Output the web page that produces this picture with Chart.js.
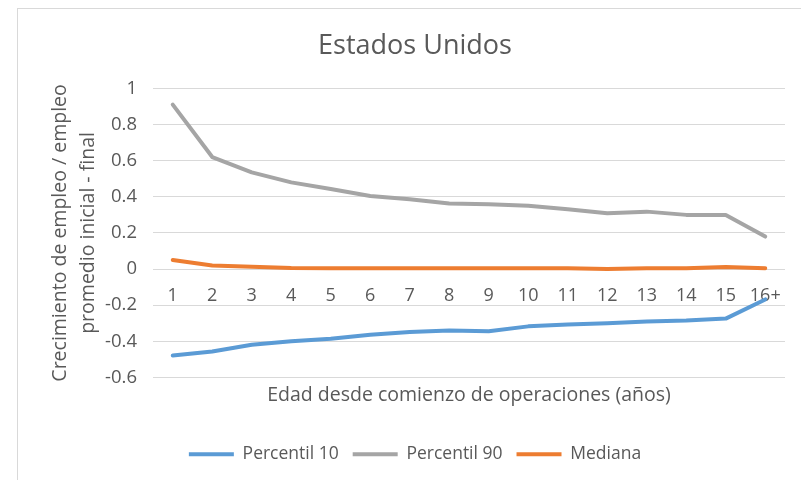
<!DOCTYPE html>
<html lang="es">
<head>
<meta charset="utf-8">
<title>Estados Unidos</title>
<script src="https://cdn.jsdelivr.net/npm/chart.js@4.4.1/dist/chart.umd.min.js"></script>
<style>
  body { margin: 0; background: #fff; }
  #frame { position: absolute; left: 17px; top: 8px; width: 800px; height: 480px;
           border-top: 1px solid #d9d9d9; border-left: 1px solid #d9d9d9; }
  #chart { position: absolute; left: 0; top: 0; }
</style>
</head>
<body>
<div id="frame"></div>
<canvas id="chart" width="801" height="480"></canvas>
<script>
// Edad (años) desde comienzo de operaciones
const edades = ['1', '2', '3', '4', '5', '6', '7', '8', '9', '10', '11', '12', '13', '14', '15', '16+'];

// Crecimiento de empleo / empleo promedio inicial - final
const percentil10 = [-0.478, -0.456, -0.419, -0.400, -0.385, -0.363, -0.348, -0.340, -0.344, -0.317, -0.307, -0.300, -0.290, -0.285, -0.274, -0.168];
const percentil90 = [0.910, 0.620, 0.535, 0.480, 0.443, 0.405, 0.387, 0.363, 0.359, 0.350, 0.331, 0.309, 0.318, 0.300, 0.300, 0.180];
const mediana = [0.050, 0.020, 0.013, 0.006, 0.005, 0.005, 0.005, 0.005, 0.005, 0.005, 0.004, 0.000, 0.004, 0.005, 0.012, 0.005];

const yTicks = [1, 0.8, 0.6, 0.4, 0.2, 0, -0.2, -0.4, -0.6];

const textColor = '#595959';
const fontFamily = '"Open Sans", sans-serif';

const serie = (label, data, color) => ({
    label: label,
    data: data,
    borderColor: color,
    backgroundColor: color,
    borderWidth: 4,
    borderCapStyle: 'round',
    borderJoinStyle: 'round',
    pointRadius: 0,
    tension: 0,
    xAxisID: 'x'
});

new Chart(document.getElementById('chart'), {
    type: 'line',
    data: {
        labels: edades,
        datasets: [
            serie('Percentil 10', percentil10, '#5b9bd5'),
            serie('Percentil 90', percentil90, '#a5a5a5'),
            serie('Mediana', mediana, '#ed7d31')
        ]
    },
    options: {
        responsive: false,
        animation: false,
        layout: { padding: { left: 45, right: 16, top: 0, bottom: 7 } },
        plugins: {
            title: {
                display: true,
                text: 'Estados Unidos',
                color: textColor,
                font: { family: fontFamily, size: 27, weight: 'normal' },
                padding: { top: 30, bottom: 26 }
            },
            legend: {
                position: 'bottom',
                labels: {
                    usePointStyle: true,
                    pointStyle: 'line',
                    pointStyleWidth: 45,
                    boxHeight: 4,
                    color: textColor,
                    font: { family: fontFamily, size: 17.5 },
                    padding: 14
                }
            },
            tooltip: { enabled: false }
        },
        scales: {
            x: {
                type: 'category',
                position: { y: 0 },
                offset: true,
                grid: { display: false },
                border: { display: false },
                ticks: {
                    color: textColor,
                    font: { family: fontFamily, size: 18 },
                    padding: 8,
                    autoSkip: false,
                    maxRotation: 0
                }
            },
            x2: {
                type: 'category',
                position: 'bottom',
                offset: true,
                grid: { display: false },
                border: { display: false },
                ticks: { display: false },
                afterFit: scale => {
                    scale.height = 54;
                },
                title: {
                    display: true,
                    text: 'Edad desde comienzo de operaciones (años)',
                    color: textColor,
                    font: { family: fontFamily, size: 19.5 },
                    padding: { top: 0, bottom: 24 }
                }
            },
            y: {
                min: -0.6,
                max: 1,
                afterBuildTicks: scale => {
                    scale.ticks = yTicks.map(v => ({ value: v }));
                },
                afterFit: scale => {
                    scale.width = 108;
                },
                grid: { color: '#d9d9d9', lineWidth: 1, drawTicks: false },
                border: { display: false },
                ticks: {
                    color: textColor,
                    font: { family: fontFamily, size: 18.5 },
                    padding: 16,
                    callback: v => String(parseFloat(Number(v).toFixed(1)))
                },
                title: {
                    display: true,
                    text: ['Crecimiento de empleo / empleo', 'promedio inicial - final'],
                    color: textColor,
                    font: { family: fontFamily, size: 19.5, lineHeight: 1.44 },
                    padding: { top: 1, bottom: 0 }
                }
            }
        }
    }
});
</script>
</body>
</html>
